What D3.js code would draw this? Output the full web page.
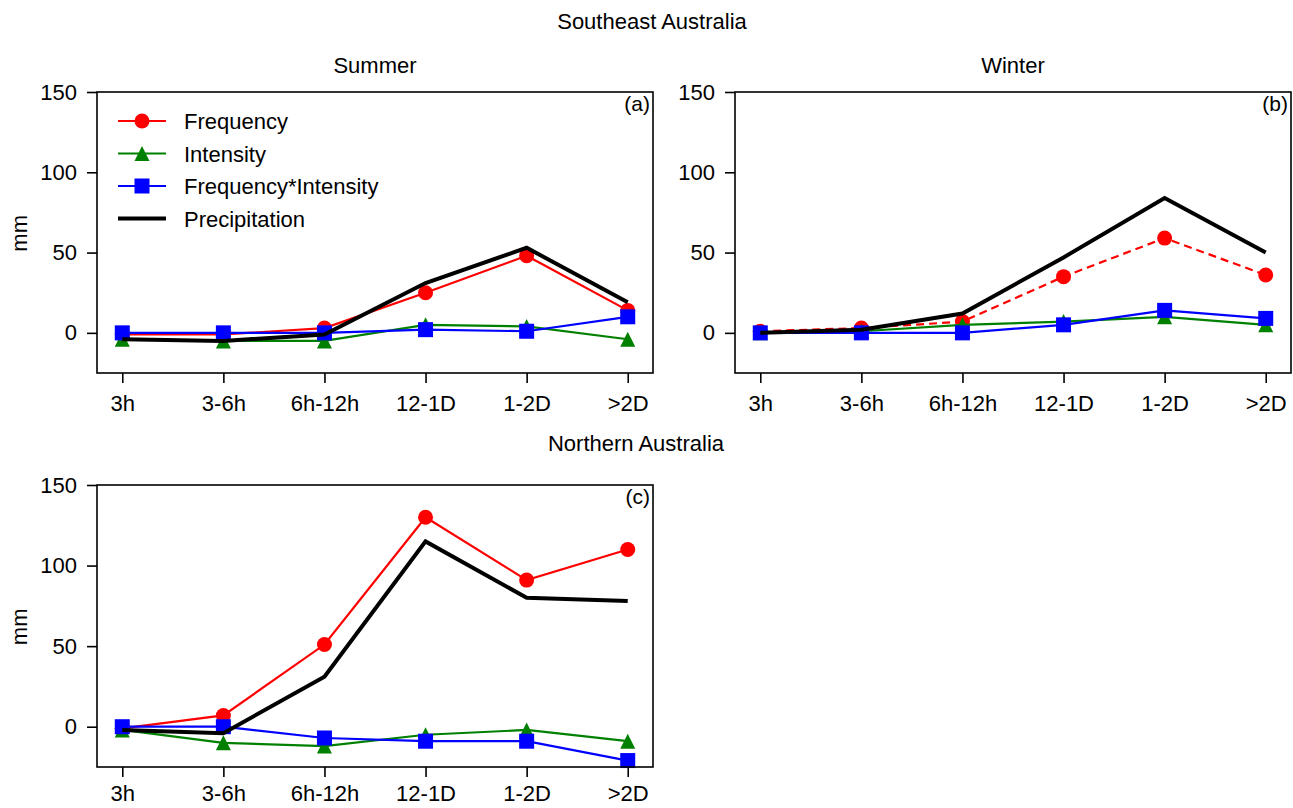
<!DOCTYPE html>
<html>
<head>
<meta charset="utf-8">
<script src="https://cdn.jsdelivr.net/npm/d3@7"></script>
<style>
  body { margin: 0; background: #fff; }
  text { font-family: "Liberation Sans", Arial, sans-serif; fill: #000; }
</style>
</head>
<body>
<div id="chart"></div>
<script>
// Categories (duration bins)
const categories = ["3h", "3-6h", "6h-12h", "12-1D", "1-2D", ">2D"];
const yTicks = [0, 50, 100, 150];

// Southeast Australia, Summer (a)
const seSummerFrequency = [-1, -1, 3, 25, 48, 14];
const seSummerIntensity = [-4, -5, -5, 5, 4, -4];
const seSummerFreqInt = [0, 0, 0, 2, 1, 10];
const seSummerPrecip = [-4, -5, -1, 31, 53, 19];

// Southeast Australia, Winter (b)
const seWinterFrequency = [1, 3, 7, 35, 59, 36];
const seWinterIntensity = [0, 1, 5, 7, 10, 5];
const seWinterFreqInt = [0, 0, 0, 5, 14, 9];
const seWinterPrecip = [0, 2, 12, 47, 84, 50];

// Northern Australia (c)
const naFrequency = [-1, 7, 51, 130, 91, 110];
const naIntensity = [-2, -10, -12, -5, -2, -9];
const naFreqInt = [0, 0, -7, -9, -9, -21];
const naPrecip = [-2, -4, 31, 115, 80, 78];

const legendNames = ["Frequency", "Intensity", "Frequency*Intensity", "Precipitation"];

const FONT = "22px";

const svg = d3.select("#chart").append("svg")
  .attr("width", 1293)
  .attr("height", 808);

// figure-level titles
svg.append("text").attr("x", 652).attr("y", 29).attr("text-anchor", "middle")
  .style("font-size", FONT).text("Southeast Australia");
svg.append("text").attr("x", 636).attr("y", 451).attr("text-anchor", "middle")
  .style("font-size", FONT).text("Northern Australia");

function drawMarker(g, type, x, y, color) {
  if (type === "circle") {
    g.append("circle").attr("cx", x).attr("cy", y).attr("r", 7.5).attr("fill", color);
  } else if (type === "triangle") {
    g.append("path")
      .attr("d", `M${x},${y - 7.5}L${x - 7.5},${y + 7.5}L${x + 7.5},${y + 7.5}Z`)
      .attr("fill", color);
  } else if (type === "square") {
    g.append("rect").attr("x", x - 7.5).attr("y", y - 7.5)
      .attr("width", 15).attr("height", 15).attr("fill", color);
  }
}

function drawPanel(cfg) {
  const w = cfg.width, h = cfg.height;
  const g = svg.append("g").attr("transform", `translate(${cfg.left}, ${cfg.top})`);

  const x = d3.scalePoint().domain(categories).range([0, w]).padding(0.25);
  const y = d3.scaleLinear().domain([-25, 150]).range([h, 0]);

  // axes
  const xAxis = g.append("g").attr("transform", `translate(0, ${h})`)
    .call(d3.axisBottom(x).tickSizeOuter(0).tickSize(10).tickPadding(cfg.xPad));
  const yAxis = g.append("g")
    .call(d3.axisLeft(y).tickValues(yTicks).tickSizeOuter(0).tickSize(10).tickPadding(10));
  [xAxis, yAxis].forEach(a => {
    a.select(".domain").remove();
    a.selectAll("line").attr("stroke", "#000").attr("stroke-width", 1.6);
    a.selectAll("text").style("font-size", FONT).style("font-family", "Liberation Sans, Arial, sans-serif");
  });

  // series lines
  const line = d3.line().x((d, i) => x(categories[i])).y(d => y(d));
  cfg.series.forEach(s => {
    g.append("path")
      .datum(s.values)
      .attr("d", line)
      .attr("fill", "none")
      .attr("stroke", s.color)
      .attr("stroke-width", s.width)
      .attr("stroke-linejoin", "miter")
      .attr("stroke-dasharray", s.dash || null);
    if (s.marker) {
      s.values.forEach((v, i) => drawMarker(g, s.marker, x(categories[i]), y(v), s.color));
    }
  });

  // frame
  g.append("rect").attr("width", w).attr("height", h)
    .attr("fill", "none").attr("stroke", "#000").attr("stroke-width", 1.6);

  // titles and labels
  if (cfg.title) {
    g.append("text").attr("x", w / 2).attr("y", -19).attr("text-anchor", "middle")
      .style("font-size", FONT).text(cfg.title);
  }
  g.append("text").attr("x", w - 3).attr("y", 19).attr("text-anchor", "end")
    .style("font-size", "21px").text(cfg.tag);
  if (cfg.ylabel) {
    g.append("text")
      .attr("transform", "rotate(-90)")
      .attr("x", -y(62)).attr("y", -70)
      .attr("text-anchor", "middle")
      .style("font-size", FONT).text("mm");
  }

  if (cfg.legend) {
    const lg = g.append("g").attr("transform", "translate(21, 29)");
    cfg.series.forEach((s, i) => {
      const row = lg.append("g").attr("transform", `translate(0, ${i * 32.5})`);
      row.append("line").attr("x1", 0).attr("x2", 48).attr("y1", 0).attr("y2", 0)
        .attr("stroke", s.color).attr("stroke-width", s.width);
      if (s.marker) drawMarker(row, s.marker, 24, 0, s.color);
      row.append("text").attr("x", 66).attr("y", 8).style("font-size", FONT).text(legendNames[i]);
    });
  }
}

function makeSeries(freq, inten, fi, precip, freqDash) {
  return [
    { values: freq, color: "#ff0000", marker: "circle", width: 2.2, dash: freqDash },
    { values: inten, color: "#008000", marker: "triangle", width: 2.2 },
    { values: fi, color: "#0000ff", marker: "square", width: 2.2 },
    { values: precip, color: "#000000", marker: null, width: 4 }
  ];
}

drawPanel({
  left: 97, top: 92, width: 556, height: 281, title: "Summer", tag: "(a)",
  ylabel: true, legend: true, xPad: 12,
  series: makeSeries(seSummerFrequency, seSummerIntensity, seSummerFreqInt, seSummerPrecip)
});
drawPanel({
  left: 735, top: 92, width: 556, height: 281, title: "Winter", tag: "(b)", xPad: 12,
  series: makeSeries(seWinterFrequency, seWinterIntensity, seWinterFreqInt, seWinterPrecip, "8,5")
});
drawPanel({
  left: 97, top: 485, width: 556, height: 282, tag: "(c)", ylabel: true, xPad: 8,
  series: makeSeries(naFrequency, naIntensity, naFreqInt, naPrecip)
});
</script>
</body>
</html>
